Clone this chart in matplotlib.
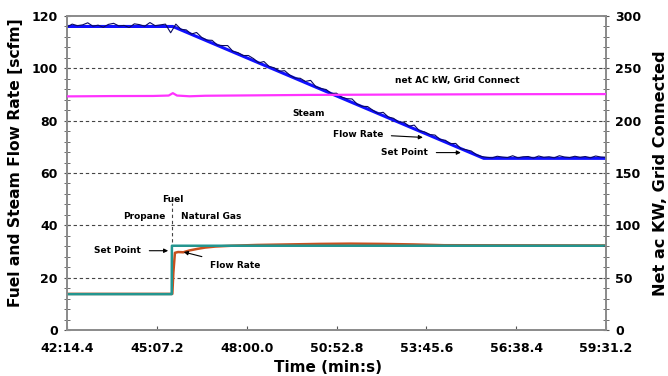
import numpy as np
import matplotlib.pyplot as plt
from matplotlib.ticker import MultipleLocator, FuncFormatter

# tiempo en segundos desde el inicio de la hora (42:14.4 -> 59:31.2)
T0 = 2534.4
T1 = 3571.2
xticks = [2534.4, 2707.2, 2880.0, 3052.8, 3225.6, 3398.4, 3571.2]

# vapor: punto de consigna y caudal medido [scfm]
steam_sp_t = [2534.4, 2738.0, 3336.0, 3571.2]
steam_sp = [116.0, 116.0, 65.6, 65.6]

steam_flow = [
    115.8, 116.9, 116.3, 116.6, 117.4, 116.1, 116.5, 115.7, 116.8, 117.2,
    116.2, 116.4, 115.6, 117.0, 116.7, 116.1, 117.5, 116.3, 116.6, 116.9,
    113.6,
    116.9, 114.9, 114.7, 113.1, 113.7, 111.8, 110.8, 110.7, 108.9, 108.7,
    108.7, 106.5, 106.0, 104.9, 104.9, 103.7, 102.1, 102.6, 100.7, 100.2,
    98.9, 99.1, 97.4, 96.3, 96.2, 95.0, 95.4, 93.0, 92.3, 91.9,
    90.4, 90.5, 89.0, 88.4, 88.3, 86.3, 85.5, 85.4, 84.0, 82.8,
    83.2, 81.4, 80.9, 79.5, 79.4, 77.9, 78.3, 76.1, 75.7, 74.7,
    74.5, 72.8, 72.5, 71.2, 71.3, 69.3, 68.9, 68.4, 67.0, 66.3,
    66.0, 65.8, 66.4, 66.1, 65.9, 66.6, 65.8, 66.2, 66.3, 65.7,
    66.5, 66.0, 66.2, 65.8, 66.6, 66.1, 65.9, 66.4, 66.0, 66.3,
    65.8, 66.5, 66.1, 66.0,
]
steam_flow_t = np.linspace(T0, T1, len(steam_flow))

# combustible: consigna y caudal [scfm]
fuel_sp_t = [2534.4, 2735.8, 2736.2, 3571.2]
fuel_sp = [13.7, 13.7, 32.2, 32.2]

fuel_flow_t = [2534.4, 2737.0, 2739.0, 2742.0, 2748.0, 2758.0, 2770.0, 2785.0,
               2800.0, 2820.0, 2850.0, 2900.0, 2960.0, 3020.0, 3080.0, 3140.0,
               3200.0, 3260.0, 3571.2]
fuel_flow = [13.8, 13.8, 22.0, 29.5, 29.8, 29.7, 30.4, 31.0,
             31.5, 31.9, 32.2, 32.5, 32.7, 32.9, 33.0, 32.9,
             32.7, 32.4, 32.3]

# potencia neta AC [kW], eje derecho
power_t = [2534.4, 2620.0, 2700.0, 2730.0, 2738.0, 2746.0, 2770.0, 2800.0,
           2900.0, 3000.0, 3200.0, 3400.0, 3571.2]
power = [223.2, 223.5, 223.6, 224.0, 226.3, 224.0, 223.3, 223.8,
         224.2, 224.6, 225.0, 225.3, 225.4]


def fmt_time(v, pos):
    m = int(v // 60)
    s = v - m * 60
    return f"{m}:{s:04.1f}"


plt.rcParams["font.family"] = "DejaVu Sans"
plt.rcParams["font.weight"] = "bold"

fig = plt.figure(figsize=(6.68, 3.76), dpi=100)
ax = fig.add_axes([67 / 668, 1 - 330 / 376, (606 - 67) / 668, (330 - 16) / 376])
ax2 = ax.twinx()

spine_col = "#8c8c8c"
for a in (ax, ax2):
    for s in a.spines.values():
        s.set_color(spine_col)
        s.set_linewidth(1.3)

# grid punteado
for y in [20, 40, 60, 80, 100]:
    ax.axhline(y, color="#444444", lw=0.8, ls=(0, (3, 2.5)), zorder=1)

ax.plot(steam_sp_t, steam_sp, color="#1010ff", lw=2.2, zorder=3)
ax.plot(steam_flow_t, steam_flow, color="#0a0a60", lw=0.8, zorder=4)
ax.plot(fuel_flow_t, fuel_flow, color="#c8501e", lw=1.8, zorder=3)
ax.plot(fuel_sp_t, fuel_sp, color="#23958f", lw=1.8, zorder=4)
ax2.plot(power_t, power, color="#ff33ff", lw=1.6, zorder=3)

# linea de cambio de combustible
ax.plot([2736, 2736], [33.5, 48.5], color="#444444", lw=0.8, ls=(0, (3, 2.5)))

ax.set_xlim(T0, T1)
ax.set_ylim(0, 120)
ax2.set_ylim(0, 300)
ax.set_xticks(xticks)
ax.xaxis.set_major_formatter(FuncFormatter(fmt_time))
ax.yaxis.set_major_locator(MultipleLocator(20))
ax.yaxis.set_minor_locator(MultipleLocator(4))
ax2.yaxis.set_major_locator(MultipleLocator(50))
ax2.yaxis.set_minor_locator(MultipleLocator(10))

ax.tick_params(axis="x", direction="in", length=3, color="#555555",
               labelsize=9, pad=9)
ax.tick_params(axis="y", which="both", direction="inout", length=5,
               color="#555555", labelsize=9, pad=4)
ax.tick_params(axis="y", which="minor", length=4)
ax2.tick_params(axis="y", which="both", direction="inout", length=5,
                color="#555555", labelsize=9, pad=4)
ax2.tick_params(axis="y", which="minor", length=4)

ax.set_xlabel("Time (min:s)", fontsize=11, fontweight="bold")
ax.set_ylabel("Fuel and Steam Flow Rate [scfm]", fontsize=11.2,
              fontweight="bold")
ax2.set_ylabel("Net ac KW, Grid Connected", fontsize=11.6,
               fontweight="bold")
ax.xaxis.set_label_coords(0.484, -0.096)
ax.yaxis.set_label_coords(-0.082, 0.532)
ax2.yaxis.set_label_coords(1.087, 0.498)

fs = 6.5
ax.text(2738.3, 50, "Fuel", fontsize=fs, ha="center", va="center")
ax.text(2724.8, 43.3, "Propane", fontsize=fs, ha="right", va="center")
ax.text(2753.7, 43.3, "Natural Gas", fontsize=fs, ha="left", va="center")
ax.text(3000, 82.9, "Steam", fontsize=fs, ha="center", va="center")
ax.text(3284.6, 95.5, "net AC kW, Grid Connect", fontsize=fs,
        ha="center", va="center")

arrow = dict(arrowstyle="-|>", color="black", lw=0.8, mutation_scale=6,
             shrinkA=4, shrinkB=0)
ax.annotate("Set Point", xy=(2729, 30.3), xytext=(2676.7, 30.3), fontsize=fs,
            ha="right", va="center", arrowprops=arrow)
ax.annotate("Flow Rate", xy=(2759, 29.8), xytext=(2809.5, 24.8), fontsize=fs,
            ha="left", va="center", arrowprops=arrow)
ax.annotate("Flow Rate", xy=(3219, 73.6), xytext=(3142.3, 74.9), fontsize=fs,
            ha="right", va="center", arrowprops=arrow)
ax.annotate("Set Point", xy=(3292, 67.8), xytext=(3228.8, 67.8), fontsize=fs,
            ha="right", va="center", arrowprops=arrow)

fig.savefig("out.png", dpi=100)
